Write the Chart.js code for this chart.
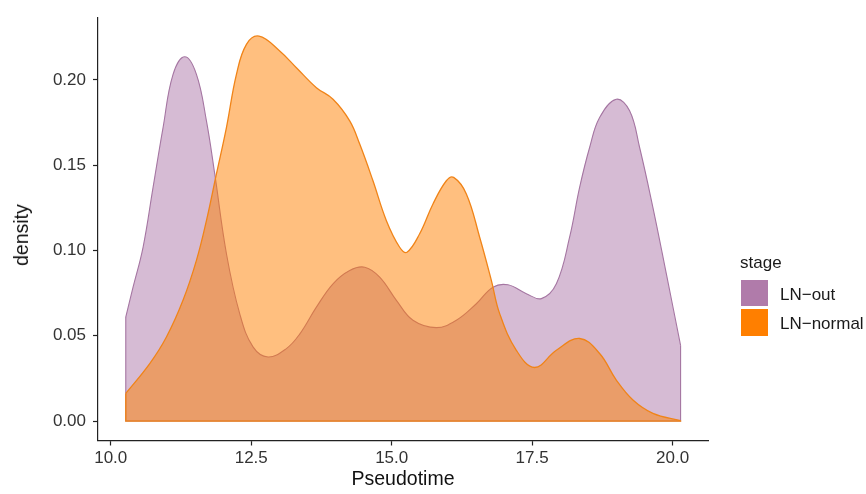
<!DOCTYPE html>
<html>
<head>
<meta charset="utf-8">
<title>Pseudotime density by stage</title>
<script src="https://cdn.jsdelivr.net/npm/chart.js@4.4.1/dist/chart.umd.min.js"></script>
<style>
  html, body { margin: 0; padding: 0; background: #ffffff; }
  #wrap { position: relative; width: 866px; height: 494px; }
  #chart { position: absolute; left: 0; top: 0; }
  .lg { position: absolute; font-family: "Liberation Sans", Arial, sans-serif; font-size: 17px; line-height: 17px; color: #1a1a1a; white-space: nowrap; }
  .key { position: absolute; width: 27px; }
  #ytitle { position: absolute; left: 21px; top: 235px; transform: translate(-50%, -50%) rotate(-90deg);
            font-family: "Liberation Sans", Arial, sans-serif; font-size: 19.5px; line-height: 20px; color: #111; white-space: nowrap; }
</style>
</head>
<body>
<div id="wrap">
  <canvas id="chart" width="866" height="494"></canvas>
  <div id="ytitle">density</div>
  <div class="lg" style="left:740px; top:254px;">stage</div>
  <div class="key" style="left:741px; top:280px; height:26px; background:#b07baa;"></div>
  <div class="key" style="left:741px; top:309px; height:27px; background:#ff7f00;"></div>
  <div class="lg" style="left:780px; top:285.6px;">LN−out</div>
  <div class="lg" style="left:780px; top:315px;">LN−normal</div>
</div>
<script>
// Kernel density estimates of pseudotime, one curve per stage
const outX = [10.267, 10.397, 10.575, 10.753, 10.931, 11.109, 11.317, 11.525, 11.703, 11.851,
              12.059, 12.295, 12.532, 12.799, 13.126, 13.363, 13.660, 13.956, 14.253, 14.520,
              14.786, 15.084, 15.379, 15.795, 16.151, 16.507, 16.802, 17.069, 17.397, 17.664,
              17.931, 18.167, 18.345, 18.523, 18.701, 18.998, 19.235, 19.413, 19.649, 19.888, 20.142];
const outY = [0.0610, 0.0785, 0.1019, 0.1370, 0.1721, 0.2033, 0.2136, 0.2033, 0.1760, 0.1449,
              0.0981, 0.0630, 0.0435, 0.0376, 0.0425, 0.0510, 0.0668, 0.0805, 0.0883, 0.0902,
              0.0844, 0.0708, 0.0591, 0.0548, 0.0591, 0.0688, 0.0785, 0.0799, 0.0747, 0.0718,
              0.0805, 0.1078, 0.1370, 0.1604, 0.1780, 0.1887, 0.1819, 0.1604, 0.1253, 0.0864, 0.0444];

const normalX = [10.267, 10.694, 10.991, 11.286, 11.525, 11.703, 11.881, 12.059, 12.237, 12.415,
                 12.639, 13.007, 13.304, 13.660, 13.956, 14.253, 14.431, 14.667, 14.906, 15.142,
                 15.272, 15.498, 15.735, 15.973, 16.103, 16.329, 16.566, 16.774, 16.922, 17.219,
                 17.544, 17.931, 18.345, 18.701, 18.998, 19.294, 19.649, 20.142];
const normalY = [0.0162, 0.0337, 0.0493, 0.0708, 0.0942, 0.1175, 0.1449, 0.1721, 0.2033, 0.2209,
                 0.2257, 0.2170, 0.2072, 0.1955, 0.1887, 0.1760, 0.1624, 0.1409, 0.1175, 0.1019,
                 0.0990, 0.1098, 0.1273, 0.1409, 0.1429, 0.1332, 0.1078, 0.0825, 0.0630, 0.0415,
                 0.0314, 0.0415, 0.0484, 0.0396, 0.0240, 0.0123, 0.0045, 0.0003];

const stages = ['LN-out', 'LN-normal'];
const xTicks = [10, 12.5, 15, 17.5, 20];
const yTicks = [0, 0.05, 0.10, 0.15, 0.20];

const FONT = '"Liberation Sans", Arial, sans-serif';
Chart.defaults.font.family = FONT;

const toPoints = (xs, ys) => xs.map((x, i) => ({ x: x, y: ys[i] }));

// Closes each density polygon: vertical edges at both ends and the baseline
const polygonEdges = {
  id: 'polygonEdges',
  afterDatasetDraw(chart, args) {
    const pts = args.meta.data;
    if (!pts.length) return;
    const ds = chart.data.datasets[args.index];
    const y0 = chart.scales.y.getPixelForValue(0);
    const first = pts[0], last = pts[pts.length - 1];
    const ctx = chart.ctx;
    ctx.save();
    ctx.strokeStyle = ds.borderColor;
    ctx.lineWidth = ds.borderWidth;
    ctx.beginPath();
    ctx.moveTo(first.x, first.y);
    ctx.lineTo(first.x, y0);
    ctx.lineTo(last.x, y0);
    ctx.lineTo(last.x, last.y);
    ctx.stroke();
    ctx.restore();
  }
};

new Chart(document.getElementById('chart'), {
  type: 'line',
  data: {
    datasets: [
      {
        label: stages[0],
        data: toPoints(outX, outY),
        backgroundColor: 'rgba(173,120,170,0.5)',
        borderColor: 'rgb(165,118,162)',
        borderWidth: 1.1,
        fill: 'origin',
        pointRadius: 0,
        tension: 0.4,
        order: 2
      },
      {
        label: stages[1],
        data: toPoints(normalX, normalY),
        backgroundColor: 'rgba(255,127,0,0.5)',
        borderColor: 'rgb(240,132,24)',
        borderWidth: 1.3,
        fill: 'origin',
        pointRadius: 0,
        tension: 0.4,
        order: 1
      }
    ]
  },
  options: {
    responsive: false,
    animation: false,
    devicePixelRatio: 1,
    layout: { padding: { top: 16, right: 158, left: 0, bottom: 0 } },
    plugins: {
      legend: { display: false },
      tooltip: { enabled: false }
    },
    scales: {
      x: {
        type: 'linear',
        min: 9.773,
        max: 20.63,
        afterFit(scale) { scale.height = 53.5; },
        afterBuildTicks(scale) { scale.ticks = xTicks.map(v => ({ value: v })); },
        grid: { display: true, drawOnChartArea: false, drawTicks: true, tickLength: 5, tickWidth: 1.2, tickColor: '#222' },
        border: { display: true, color: '#222', width: 1.2 },
        ticks: {
          color: '#333',
          padding: 3,
          maxRotation: 0,
          font: { size: 17 },
          callback: v => Number(v).toFixed(1)
        },
        title: {
          display: true,
          text: 'Pseudotime',
          color: '#111',
          font: { size: 19.5 },
          padding: { top: 0, bottom: 3 }
        }
      },
      y: {
        type: 'linear',
        min: -0.0114,
        max: 0.2368,
        afterFit(scale) { scale.width = 98; },
        afterBuildTicks(scale) { scale.ticks = yTicks.map(v => ({ value: v })); },
        grid: { display: true, drawOnChartArea: false, drawTicks: true, tickLength: 5, tickWidth: 1.2, tickColor: '#222' },
        border: { display: true, color: '#222', width: 1.2 },
        ticks: {
          color: '#333',
          padding: 7,
          font: { size: 17 },
          callback: v => Number(v).toFixed(2)
        },
        title: { display: false }
      }
    }
  },
  plugins: [polygonEdges]
});
</script>
</body>
</html>
